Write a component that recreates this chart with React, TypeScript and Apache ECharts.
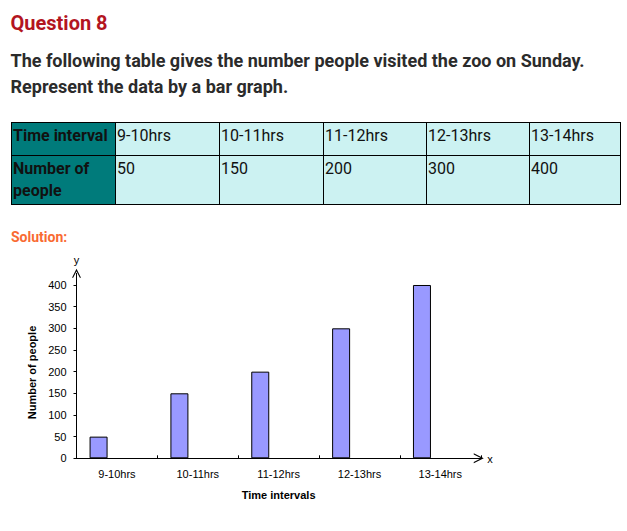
import React, { useEffect, useRef } from "react";
import * as echarts from "echarts";

// ---- data ----
const categories = ["9-10hrs", "10-11hrs", "11-12hrs", "12-13hrs", "13-14hrs"];
const visitors = [50, 150, 200, 300, 400];
const yTicks = [0, 50, 100, 150, 200, 250, 300, 350, 400];
const rowHeaders = ["Time interval", "Number of people"];
const titleText = "Question 8";
const questionLines = [
  "The following table gives the number people visited the zoo on Sunday.",
  "Represent the data by a bar graph.",
];
const solutionText = "Solution:";
const xAxisTitle = "Time intervals";
const yAxisTitle = "Number of people";

// ---- layout (pixels) ----
const colEdges = [11, 115, 219, 323, 426, 529, 620];
const rowEdges = [122, 155, 204];

const ARROW = "path://M0,10 L5,0 L10,10 L8.7,10 L5,2.6 L1.3,10 Z";
const AXIS_FONT = "'Liberation Sans', Arial, sans-serif";

function Chart() {
  const ref = useRef<HTMLDivElement>(null);
  useEffect(() => {
    if (!ref.current) return;
    const chart = echarts.init(ref.current, null, { renderer: "svg" });
    chart.setOption({
      animation: false,
      grid: {
        left: 76.5,
        right: 146.25,
        top: 273.3,
        bottom: 72.7,
        outerBoundsMode: "none",
        containLabel: false,
      },
      xAxis: {
        type: "category",
        data: categories,
        boundaryGap: true,
        axisLine: {
          show: true,
          lineStyle: { color: "#000", width: 1 },
          symbol: ["none", ARROW],
          symbolSize: [10, 11],
          symbolOffset: [0, -2],
        },
        axisTick: { show: true, inside: true, length: 3, lineStyle: { color: "#000" } },
        axisLabel: { color: "#000", fontFamily: AXIS_FONT, fontSize: 11, margin: 10 },
        splitLine: { show: false },
        name: xAxisTitle,
        nameLocation: "middle",
        nameGap: 31,
        nameTextStyle: { color: "#000", fontFamily: AXIS_FONT, fontSize: 11, fontWeight: "bold" },
      },
      yAxis: {
        type: "value",
        min: 0,
        max: 427,
        axisLine: {
          show: true,
          lineStyle: { color: "#000", width: 1 },
          symbol: ["none", ARROW],
          symbolSize: [10, 9],
        },
        axisTick: { show: true, length: 3, customValues: yTicks, lineStyle: { color: "#000" } },
        axisLabel: { customValues: yTicks, color: "#000", fontFamily: AXIS_FONT, fontSize: 11, margin: 10 },
        splitLine: { show: false },
      },
      graphic: [
        {
          type: "text",
          x: 76.5,
          y: 260,
          style: { text: "y", fill: "#000", font: `11px ${AXIS_FONT}`, align: "center", verticalAlign: "middle" },
        },
        {
          type: "text",
          x: 490,
          y: 458.5,
          style: { text: "x", fill: "#000", font: `11px ${AXIS_FONT}`, align: "center", verticalAlign: "middle" },
        },
        {
          type: "text",
          x: 31.7,
          y: 372.5,
          rotation: Math.PI / 2,
          style: {
            text: yAxisTitle,
            fill: "#000",
            font: `bold 11px ${AXIS_FONT}`,
            align: "center",
            verticalAlign: "middle",
          },
        },
      ],
      series: [
        {
          type: "bar",
          data: visitors,
          barWidth: 18,
          barGap: "104%",
          itemStyle: { color: "#9999ff", borderColor: "#000", borderWidth: 1 },
        },
        {
          type: "bar",
          data: [],
          barWidth: 18,
        },
      ],
    });
    return () => chart.dispose();
  }, []);
  return (
    <div
      ref={ref}
      style={{ position: "absolute", left: 0, top: 0, width: 627, height: 531 }}
    />
  );
}

export default function App() {
  const cells: React.ReactNode[] = [];
  const cellStyle = (c: number, r: number): React.CSSProperties => ({
    position: "absolute",
    left: colEdges[c],
    top: rowEdges[r],
    width: colEdges[c + 1] - colEdges[c] + 1,
    height: rowEdges[r + 1] - rowEdges[r] + 1,
    boxSizing: "border-box",
    border: "1px solid #000",
    background: c === 0 ? "#007b7b" : "#ccf2f2",
    color: "#111",
    fontSize: 16,
    lineHeight: "22px",
    padding: "1.5px 0 0 1px",
    fontWeight: c === 0 ? 700 : 400,
    whiteSpace: c === 0 ? "normal" : "nowrap",
    overflow: "hidden",
  });
  for (let r = 0; r < 2; r++) {
    cells.push(
      <div key={`h${r}`} style={cellStyle(0, r)}>
        {rowHeaders[r]}
      </div>
    );
    for (let c = 0; c < categories.length; c++) {
      cells.push(
        <div key={`c${r}-${c}`} style={cellStyle(c + 1, r)}>
          {r === 0 ? categories[c] : String(visitors[c])}
        </div>
      );
    }
  }

  return (
    <div
      style={{
        position: "absolute",
        left: 0,
        top: 0,
        width: 627,
        height: 531,
        background: "#fff",
        fontFamily: "Roboto, 'Noto Sans', sans-serif",
        overflow: "hidden",
      }}
    >
      <Chart />
      <div
        style={{
          position: "absolute",
          left: 10.5,
          top: 13.2,
          fontSize: 20,
          lineHeight: "20px",
          fontWeight: 700,
          color: "#b3151f",
          whiteSpace: "nowrap",
        }}
      >
        {titleText}
      </div>
      <div
        style={{
          position: "absolute",
          left: 10.5,
          top: 47.5,
          fontSize: 18,
          lineHeight: "26px",
          fontWeight: 700,
          color: "#2b2b2b",
          whiteSpace: "nowrap",
        }}
      >
        {questionLines.map((l, i) => (
          <div key={i}>{l}</div>
        ))}
      </div>
      {cells}
      <div
        style={{
          position: "absolute",
          left: 11,
          top: 229.9,
          fontSize: 14,
          lineHeight: "14px",
          fontWeight: 700,
          color: "#f96a32",
          whiteSpace: "nowrap",
        }}
      >
        {solutionText}
      </div>
    </div>
  );
}
